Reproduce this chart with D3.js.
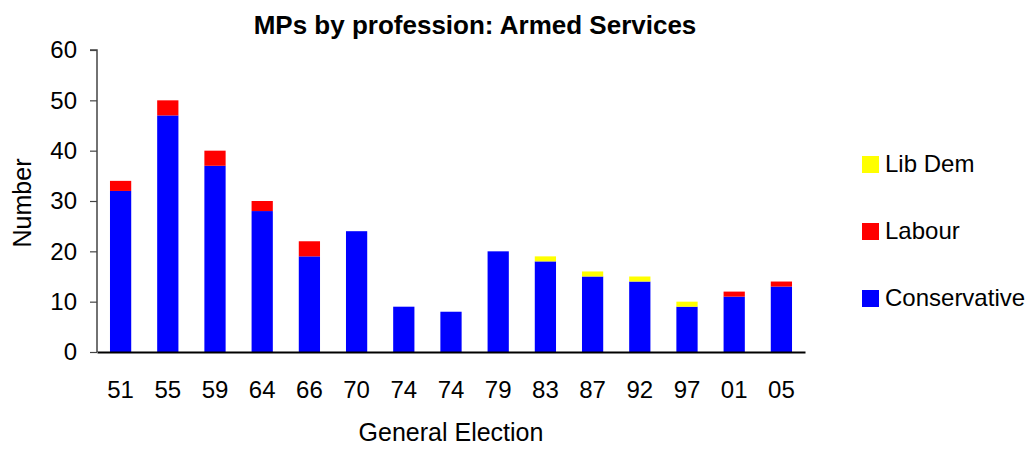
<!DOCTYPE html>
<html><head><meta charset="utf-8">
<script src="https://cdn.jsdelivr.net/npm/d3@7"></script>
<style>body{margin:0;background:#fff}svg{display:block}text{font-family:"Liberation Sans",Arial,sans-serif}</style>
</head><body><svg id="c" width="1036" height="449"></svg>
<script>
const categories = ["51","55","59","64","66","70","74","74","79","83","87","92","97","01","05"];
const conservative = [32,47,37,28,19,24,9,8,20,18,15,14,9,11,13];
const labour = [2,3,3,2,3,0,0,0,0,0,0,0,0,1,1];
const libDem = [0,0,0,0,0,0,0,0,0,1,1,1,1,0,0];
const yTicks = [0,10,20,30,40,50,60];
const seriesNames = ["Conservative","Labour","Lib Dem"];
const colors = {"Conservative":"#0000ff","Labour":"#ff0000","Lib Dem":"#ffff00"};

(function(){
const svg = d3.select("#c");
const mL = 97, mR = 805, mT = 50, mB = 352;
const x = d3.scaleBand().domain(d3.range(categories.length)).range([mL, mR]).paddingInner(0.55).paddingOuter(0.275);
const y = d3.scaleLinear().domain([0,60]).range([mB, mT]);

const rows = categories.map((c,i)=>({i, "Conservative":conservative[i], "Labour":labour[i], "Lib Dem":libDem[i]}));
const stack = d3.stack().keys(seriesNames)(rows);

svg.append("g").selectAll("g").data(stack).join("g")
  .attr("fill", d=>colors[d.key])
  .selectAll("rect").data(d=>d).join("rect")
  .attr("x", d=>x(d.data.i)).attr("width", x.bandwidth())
  .attr("y", d=>y(d[1])).attr("height", d=>y(d[0])-y(d[1]));

const ya = svg.append("g").attr("transform",`translate(${mL},0)`)
  .call(d3.axisLeft(y).tickValues(yTicks).tickSize(7).tickPadding(13));
ya.select(".domain").attr("stroke","#444").attr("stroke-width",1.5).attr("d",`M-7,${mT}H0V${mB}`);
ya.selectAll(".tick line").attr("stroke","#444").attr("stroke-width",1.2);
ya.selectAll("text").attr("font-size",24).attr("fill","#000").attr("font-family","Liberation Sans, Arial, sans-serif");

const xa = svg.append("g").attr("transform",`translate(0,${mB})`)
  .call(d3.axisBottom(x).tickFormat(i=>categories[i]).tickSize(0).tickPadding(29));
xa.select(".domain").attr("stroke","#000").attr("stroke-width",2);
xa.selectAll("text").attr("font-size",24).attr("fill","#000").attr("font-family","Liberation Sans, Arial, sans-serif");

svg.append("text").attr("x",475).attr("y",34).attr("text-anchor","middle")
  .attr("font-size",26).attr("font-weight","bold").text("MPs by profession: Armed Services");
svg.append("text").attr("x",451).attr("y",441).attr("text-anchor","middle")
  .attr("font-size",25).text("General Election");
svg.append("text").attr("transform","translate(31,203) rotate(-90)").attr("text-anchor","middle")
  .attr("font-size",25).text("Number");

const legendItems = ["Lib Dem","Labour","Conservative"];
const lg = svg.append("g").selectAll("g").data(legendItems).join("g")
  .attr("transform",(d,i)=>`translate(862,${156 + i*67})`);
lg.append("rect").attr("width",17).attr("height",17).attr("fill",d=>colors[d]);
lg.append("text").attr("x",23).attr("y",16).attr("font-size",24).text(d=>d);
})();
</script></body></html>
